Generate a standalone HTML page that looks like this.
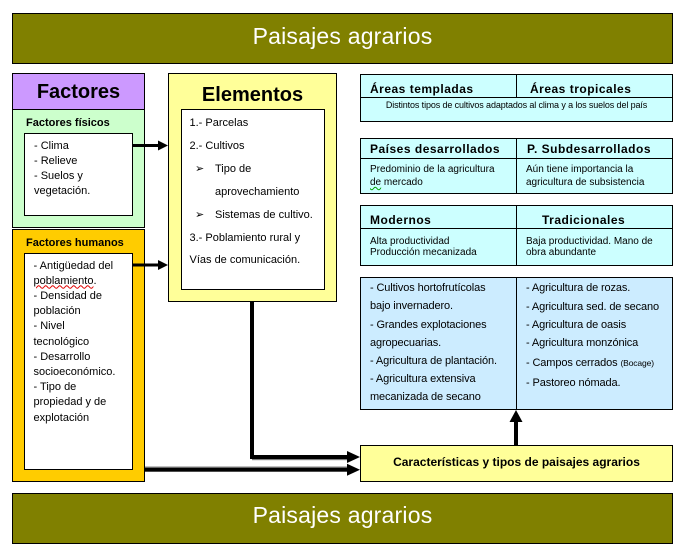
<!DOCTYPE html>
<html>
<head>
<meta charset="utf-8">
<style>
  html, body { margin: 0; padding: 0; background: #ffffff; }
  body { width: 684px; height: 554px; position: relative; overflow: hidden;
         font-family: "Liberation Sans", Arial, sans-serif; color: #000; }
  .b { position: absolute; box-sizing: border-box; border: 1px solid #000; }
  .t { position: absolute; white-space: nowrap; }
  .banner { background: #808000; }
  .bt { color: #fff; font-size: 23px; letter-spacing: 0.2px; line-height: 26px; left: 12px; width: 661px; text-align: center; }
  .h20 { font-size: 20px; font-weight: bold; line-height: 24px; text-align: center; }
  .h11 { font-size: 11px; font-weight: bold; line-height: 13px; }
  .hr { font-size: 12px; font-weight: bold; letter-spacing: 0.5px; line-height: 14px; }
  .s11 { font-size: 11px; }
  .vd { position: absolute; width: 1px; background: #000; }
  .hd { position: absolute; height: 1px; background: #000; }
  .bul { font-family: "DejaVu Sans", sans-serif; font-size: 11px; }
  .red { text-decoration: underline wavy #e00000; text-decoration-thickness: 1px; }
  .grn { text-decoration: underline wavy #00a000; text-decoration-thickness: 1px; }
</style>
</head>
<body>

<!-- Top banner -->
<div class="b banner" style="left:12px;top:13px;width:661px;height:51px;"></div>
<div class="t bt" style="top:22.5px;">Paisajes agrarios</div>

<!-- Bottom banner -->
<div class="b banner" style="left:12px;top:493px;width:661px;height:51px;"></div>
<div class="t bt" style="top:502px;">Paisajes agrarios</div>

<!-- Factores column -->
<div class="b" style="left:12px;top:73px;width:133px;height:37px;background:#CC99FF;"></div>
<div class="t h20" style="left:12px;width:133px;top:80px;">Factores</div>
<div class="b" style="left:12px;top:109px;width:133px;height:119px;background:#CCFFCC;"></div>
<div class="t h11" style="left:26px;top:117px;">Factores físicos</div>
<div class="b" style="left:24px;top:133px;width:109px;height:83px;background:#fff;"></div>
<div class="t s11" style="left:34px;top:138.5px;line-height:15.2px;">- Clima<br>- Relieve<br>- Suelos y<br>vegetación.</div>

<div class="b" style="left:12px;top:229px;width:133px;height:253px;background:#FFCC00;"></div>
<div class="t h11" style="left:26px;top:237px;">Factores humanos</div>
<div class="b" style="left:24px;top:253px;width:109px;height:217px;background:#fff;"></div>
<div class="t s11" style="left:33.5px;top:258.5px;line-height:15.2px;">- Antigüedad del<br><span class="red">poblamiento</span>.<br>- Densidad de<br>población<br>- Nivel<br>tecnológico<br>- Desarrollo<br>socioeconómico.<br>- Tipo de<br>propiedad y de<br>explotación</div>

<!-- Elementos -->
<div class="b" style="left:168px;top:73px;width:169px;height:229px;background:#FFFF99;"></div>
<div class="t h20" style="left:168px;width:169px;top:82.5px;">Elementos</div>
<div class="b" style="left:181px;top:109px;width:144px;height:181px;background:#fff;"></div>
<div class="t s11" style="left:189.5px;top:112px;line-height:22.9px;">1.- Parcelas</div>
<div class="t s11" style="left:189.5px;top:134.9px;line-height:22.9px;">2.- Cultivos</div>
<div class="t bul" style="left:195px;top:157.8px;line-height:22.9px;">➢</div>
<div class="t s11" style="left:215px;top:157.8px;line-height:22.9px;">Tipo de</div>
<div class="t s11" style="left:215px;top:180.7px;line-height:22.9px;">aprovechamiento</div>
<div class="t bul" style="left:195px;top:203.6px;line-height:22.9px;">➢</div>
<div class="t s11" style="left:215px;top:203.6px;line-height:22.9px;">Sistemas de cultivo.</div>
<div class="t s11" style="left:189.5px;top:226.5px;line-height:22.9px;">3.- Poblamiento rural y</div>
<div class="t s11" style="left:189.5px;top:249.4px;line-height:22.9px;">Vías de comunicación.</div>

<!-- Right box 1 -->
<div class="b" style="left:360px;top:74px;width:313px;height:48px;background:#CCFFFF;"></div>
<div class="hd" style="left:360px;top:97px;width:313px;"></div>
<div class="vd" style="left:516px;top:74px;height:24px;"></div>
<div class="t hr" style="left:370px;top:81.5px;">Áreas templadas</div>
<div class="t hr" style="left:530px;top:81.5px;">Áreas tropicales</div>
<div class="t" style="left:360px;width:313px;text-align:center;top:99.5px;font-size:9px;line-height:11px;letter-spacing:-0.12px;">Distintos tipos de cultivos adaptados al clima y a los suelos del país</div>

<!-- Right box 2 -->
<div class="b" style="left:360px;top:138px;width:313px;height:56px;background:#CCFFFF;"></div>
<div class="hd" style="left:360px;top:158px;width:313px;"></div>
<div class="vd" style="left:516px;top:138px;height:56px;"></div>
<div class="t hr" style="left:370px;top:141.5px;">Países desarrollados</div>
<div class="t hr" style="left:527px;top:141.5px;">P. Subdesarrollados</div>
<div class="t" style="left:370px;top:162.5px;font-size:10px;line-height:13.3px;">Predominio de la agricultura<br><span class="grn">de</span> mercado</div>
<div class="t" style="left:526px;top:162.5px;font-size:10px;line-height:13.3px;">Aún tiene importancia la<br>agricultura de subsistencia</div>

<!-- Right box 3 -->
<div class="b" style="left:360px;top:205px;width:313px;height:61px;background:#CCFFFF;"></div>
<div class="hd" style="left:360px;top:228px;width:313px;"></div>
<div class="vd" style="left:516px;top:205px;height:61px;"></div>
<div class="t hr" style="left:370px;top:213px;">Modernos</div>
<div class="t hr" style="left:542px;top:213px;">Tradicionales</div>
<div class="t" style="left:370px;top:236.2px;font-size:10px;line-height:11.3px;">Alta productividad<br>Producción mecanizada</div>
<div class="t" style="left:526px;top:236.2px;font-size:10px;line-height:11.3px;">Baja productividad. Mano de<br>obra abundante</div>

<!-- Right box 4 -->
<div class="b" style="left:360px;top:277px;width:313px;height:133px;background:#CCECFF;"></div>
<div class="vd" style="left:516px;top:277px;height:133px;"></div>
<div class="t s11" style="left:370px;top:279.2px;line-height:18.2px;letter-spacing:-0.12px;">- Cultivos hortofrutícolas<br>bajo invernadero.<br>- Grandes explotaciones<br>agropecuarias.<br>- Agricultura de plantación.<br>- Agricultura extensiva<br>mecanizada de secano</div>
<div class="t s11" style="left:526px;top:279.2px;line-height:18.2px;letter-spacing:-0.12px;">- Agricultura de rozas.</div>
<div class="t s11" style="left:526px;top:297.6px;line-height:18.2px;letter-spacing:-0.12px;">- Agricultura sed. de secano</div>
<div class="t s11" style="left:526px;top:315.9px;line-height:18.2px;letter-spacing:-0.12px;">- Agricultura de oasis</div>
<div class="t s11" style="left:526px;top:333.9px;line-height:18.2px;letter-spacing:-0.12px;">- Agricultura monzónica</div>
<div class="t s11" style="left:526px;top:353.9px;line-height:18.2px;letter-spacing:-0.12px;">- Campos cerrados <span style="font-size:8.5px;">(Bocage)</span></div>
<div class="t s11" style="left:526px;top:374.2px;line-height:18.2px;letter-spacing:-0.12px;">- Pastoreo nómada.</div>

<!-- Características -->
<div class="b" style="left:360px;top:445px;width:313px;height:37px;background:#FFFF99;"></div>
<div class="t" style="left:360px;width:313px;text-align:center;top:455px;font-size:12px;font-weight:bold;line-height:14px;">Características y tipos de paisajes agrarios</div>

<!-- Connectors -->
<svg width="684" height="554" style="position:absolute;left:0;top:0;" xmlns="http://www.w3.org/2000/svg">
  <!-- physical -> elementos -->
  <rect x="133" y="144" width="27" height="3" fill="#000"/>
  <polygon points="158,140.5 168,145.5 158,150.5" fill="#000"/>
  <!-- human -> elementos -->
  <rect x="133" y="263.5" width="27" height="3" fill="#000"/>
  <polygon points="158,260 168,265 158,270" fill="#000"/>
  <!-- elementos -> caracteristicas -->
  <rect x="250" y="302" width="4" height="157" fill="#000"/>
  <rect x="250" y="455" width="100" height="4" fill="#000"/>
  <rect x="252" y="459" width="96" height="1.2" fill="#808080"/>
  <polygon points="347,451 360,457 347,463" fill="#000"/>
  <!-- factores -> caracteristicas -->
  <rect x="145" y="466.5" width="203" height="1.2" fill="#808080"/>
  <rect x="145" y="467.7" width="205" height="4" fill="#000"/>
  <polygon points="347,463.7 360,469.7 347,475.7" fill="#000"/>
  <!-- caracteristicas -> box 4 -->
  <rect x="514" y="420" width="4" height="25" fill="#000"/>
  <polygon points="509.5,422 516,410 522.5,422" fill="#000"/>
</svg>

</body>
</html>
